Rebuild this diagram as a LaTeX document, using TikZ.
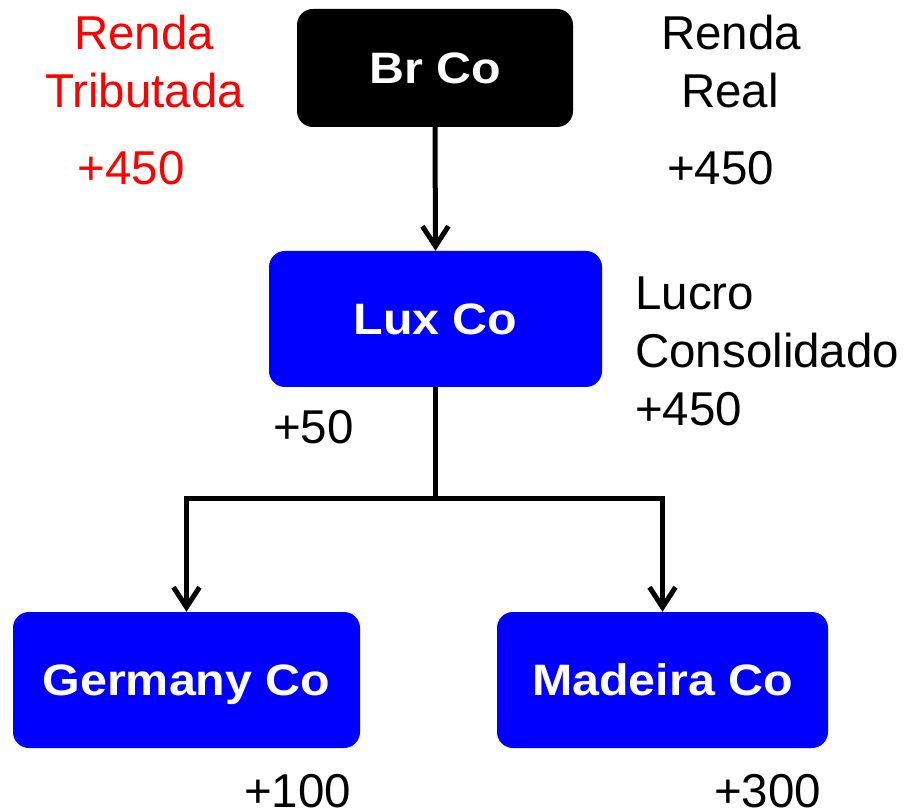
\documentclass[tikz,border=0pt]{standalone}
\usepackage{fontspec}
\setmainfont{Liberation Sans}
\newfontfamily\boxfont{Liberation Sans Bold}[FakeStretch=1.1]
\usetikzlibrary{arrows.meta}
\begin{document}
\begin{tikzpicture}[x=1pt,y=-1pt,
  company/.style={rectangle, rounded corners=16pt, inner sep=0pt,
    text=white, font=\boxfont\fontsize{44}{44}\selectfont,
    text height=31.5pt, text depth=0pt},
  lbl/.style={anchor=base, inner sep=0pt, font=\fontsize{47.5}{56}\selectfont},
  conn/.style={line width=5pt, black},
  tip/.style={-{Straight Barb[length=20pt,width=26pt]}}
]
\useasboundingbox (0,0) rectangle (908,810);
\fill[white] (0,0) rectangle (908,810);

\node[company, fill=black, minimum width=276pt, minimum height=118pt] (br) at (435,68) {Br Co};
\node[company, fill=blue, minimum width=333pt, minimum height=136pt] (lux) at (435.5,319) {Lux Co};
\node[company, fill=blue, minimum width=347pt, minimum height=136pt] (ger) at (186.5,680) {Germany Co};
\node[company, fill=blue, minimum width=331pt, minimum height=136pt] (mad) at (662.5,680) {Madeira Co};

\coordinate (j) at (435.5,498);
\draw[conn, tip] (br.south) -- (lux.north);
\draw[conn] (lux.south) -- (j);
\draw[conn, tip] (j) -| (ger.north);
\draw[conn, tip] (j) -| (mad.north);

\node[lbl, text=red] (rt1) at (144,50) {Renda};
\node[lbl, text=red] (rt2) at (144.5,108) {Tributada};
\node[lbl, text=red] (rt3) at (131,185) {+450};

\node[lbl] (rr1) at (731,50) {Renda};
\node[lbl] (rr2) at (730,108) {Real};
\node[lbl] (rr3) at (720.5,185) {+450};

\node[lbl, anchor=base west] (lc1) at (635,310) {Lucro};
\node[lbl, anchor=base west] (lc2) at (635,368) {Consolidado};
\node[lbl, anchor=base west] (lc3) at (635,425) {+450};

\node[lbl] (v50) at (313.5,443) {+50};
\node[lbl] (v100) at (297.5,807) {+100};
\node[lbl] (v300) at (767.5,807) {+300};
\end{tikzpicture}
\end{document}
